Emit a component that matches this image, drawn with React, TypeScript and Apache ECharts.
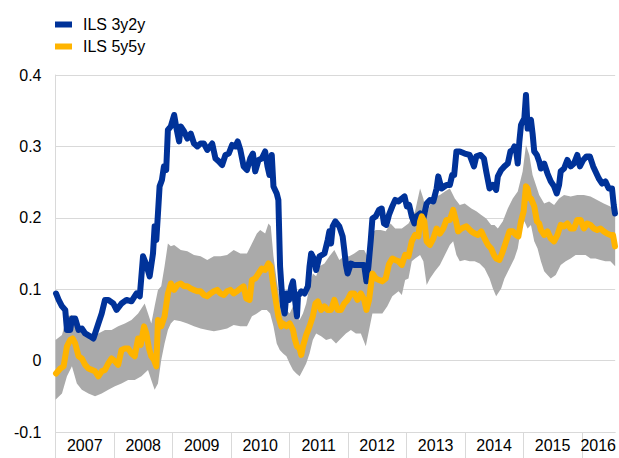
import React, { useEffect, useRef } from "react";
import * as echarts from "echarts";

// [decimal year, value]
const ils3y2y: [number, number][] = [
  [2007.009, 0.094], [2007.054, 0.085], [2007.111, 0.076], [2007.167, 0.071], [2007.196, 0.043],
  [2007.252, 0.043], [2007.281, 0.059], [2007.337, 0.059], [2007.394, 0.043], [2007.45, 0.045],
  [2007.507, 0.038], [2007.592, 0.034], [2007.648, 0.031], [2007.733, 0.052], [2007.79, 0.066],
  [2007.846, 0.085], [2007.903, 0.085], [2007.988, 0.08], [2008.044, 0.071], [2008.129, 0.08],
  [2008.214, 0.085], [2008.299, 0.083], [2008.384, 0.094], [2008.441, 0.09], [2008.497, 0.146],
  [2008.554, 0.134], [2008.61, 0.118], [2008.667, 0.15], [2008.695, 0.188], [2008.724, 0.169],
  [2008.752, 0.206], [2008.78, 0.244], [2008.82, 0.253], [2008.854, 0.272], [2008.893, 0.267],
  [2008.922, 0.323], [2008.972, 0.328], [2009.029, 0.344], [2009.074, 0.323], [2009.114, 0.307],
  [2009.142, 0.328], [2009.199, 0.321], [2009.255, 0.311], [2009.312, 0.318], [2009.368, 0.304],
  [2009.425, 0.3], [2009.481, 0.304], [2009.538, 0.304], [2009.595, 0.295], [2009.68, 0.304],
  [2009.736, 0.283], [2009.793, 0.279], [2009.849, 0.274], [2009.906, 0.288], [2009.963, 0.29],
  [2010.019, 0.302], [2010.076, 0.3], [2010.115, 0.307], [2010.161, 0.295], [2010.217, 0.272],
  [2010.274, 0.267], [2010.33, 0.283], [2010.376, 0.29], [2010.415, 0.265], [2010.472, 0.281],
  [2010.528, 0.283], [2010.585, 0.293], [2010.625, 0.272], [2010.659, 0.26], [2010.698, 0.288],
  [2010.727, 0.244], [2010.783, 0.234], [2010.811, 0.225], [2010.84, 0.132], [2010.863, 0.104],
  [2010.891, 0.076], [2010.919, 0.066], [2010.948, 0.094], [2010.993, 0.085], [2011.033, 0.104],
  [2011.061, 0.111], [2011.089, 0.09], [2011.129, 0.062], [2011.146, 0.09], [2011.202, 0.097],
  [2011.259, 0.094], [2011.316, 0.104], [2011.344, 0.132], [2011.372, 0.15], [2011.429, 0.141],
  [2011.457, 0.127], [2011.514, 0.146], [2011.599, 0.15], [2011.655, 0.169], [2011.683, 0.181],
  [2011.712, 0.164], [2011.74, 0.188], [2011.785, 0.195], [2011.853, 0.188], [2011.91, 0.174],
  [2011.938, 0.155], [2011.966, 0.134], [2011.995, 0.122], [2012.051, 0.136], [2012.108, 0.134],
  [2012.164, 0.134], [2012.221, 0.134], [2012.278, 0.134], [2012.317, 0.111], [2012.351, 0.132],
  [2012.391, 0.169], [2012.419, 0.199], [2012.476, 0.202], [2012.532, 0.211], [2012.578, 0.213],
  [2012.617, 0.192], [2012.657, 0.19], [2012.702, 0.204], [2012.759, 0.216], [2012.809, 0.225],
  [2012.866, 0.223], [2012.922, 0.227], [2012.968, 0.23], [2013.007, 0.216], [2013.047, 0.218],
  [2013.092, 0.202], [2013.137, 0.192], [2013.177, 0.202], [2013.234, 0.206], [2013.29, 0.199],
  [2013.347, 0.22], [2013.403, 0.225], [2013.46, 0.223], [2013.517, 0.241], [2013.545, 0.258],
  [2013.601, 0.241], [2013.686, 0.246], [2013.743, 0.246], [2013.783, 0.26], [2013.817, 0.26],
  [2013.856, 0.293], [2013.913, 0.293], [2013.998, 0.29], [2014.082, 0.288], [2014.156, 0.272],
  [2014.196, 0.286], [2014.269, 0.288], [2014.326, 0.283], [2014.365, 0.265], [2014.422, 0.241],
  [2014.479, 0.246], [2014.535, 0.239], [2014.564, 0.258], [2014.621, 0.267], [2014.677, 0.272],
  [2014.734, 0.276], [2014.779, 0.293], [2014.819, 0.295], [2014.847, 0.3], [2014.875, 0.295],
  [2014.904, 0.276], [2014.932, 0.307], [2014.96, 0.33], [2014.988, 0.335], [2015.017, 0.339],
  [2015.045, 0.372], [2015.073, 0.325], [2015.102, 0.335], [2015.13, 0.337], [2015.158, 0.318],
  [2015.186, 0.293], [2015.232, 0.288], [2015.271, 0.279], [2015.3, 0.269], [2015.356, 0.276],
  [2015.413, 0.262], [2015.469, 0.251], [2015.526, 0.244], [2015.571, 0.234], [2015.611, 0.246],
  [2015.639, 0.265], [2015.696, 0.269], [2015.752, 0.281], [2015.809, 0.272], [2015.866, 0.276],
  [2015.922, 0.288], [2015.967, 0.272], [2016.024, 0.281], [2016.081, 0.286], [2016.137, 0.286],
  [2016.194, 0.272], [2016.25, 0.262], [2016.29, 0.255], [2016.347, 0.248], [2016.403, 0.251],
  [2016.46, 0.241], [2016.516, 0.241], [2016.545, 0.218], [2016.567, 0.206],
];

const ils5y5y: [number, number][] = [
  [2007.009, -0.018], [2007.082, -0.011], [2007.139, -0.008], [2007.196, 0.02], [2007.252, 0.029],
  [2007.292, 0.031], [2007.337, 0.024], [2007.394, 0.006], [2007.45, 0.003], [2007.507, -0.006],
  [2007.563, -0.011], [2007.62, -0.013], [2007.676, -0.015], [2007.733, -0.022], [2007.79, -0.015],
  [2007.846, -0.013], [2007.903, -0.004], [2007.959, 0.003], [2008.016, -0.001], [2008.072, -0.006],
  [2008.129, 0.015], [2008.186, 0.017], [2008.242, 0.017], [2008.299, 0.01], [2008.355, 0.006],
  [2008.412, 0.031], [2008.457, 0.022], [2008.514, 0.048], [2008.554, 0.038], [2008.599, 0.017],
  [2008.638, 0.006], [2008.684, 0.001], [2008.724, -0.008], [2008.752, 0.057], [2008.808, 0.048],
  [2008.865, 0.062], [2008.922, 0.094], [2008.972, 0.108], [2009.029, 0.099], [2009.085, 0.106],
  [2009.142, 0.108], [2009.199, 0.104], [2009.255, 0.104], [2009.312, 0.101], [2009.368, 0.099],
  [2009.425, 0.097], [2009.481, 0.097], [2009.538, 0.092], [2009.595, 0.09], [2009.651, 0.094],
  [2009.708, 0.097], [2009.764, 0.099], [2009.821, 0.094], [2009.878, 0.092], [2009.934, 0.097],
  [2009.991, 0.099], [2010.047, 0.094], [2010.104, 0.097], [2010.161, 0.101], [2010.217, 0.104],
  [2010.262, 0.087], [2010.319, 0.085], [2010.359, 0.113], [2010.415, 0.115], [2010.472, 0.122],
  [2010.528, 0.129], [2010.585, 0.127], [2010.642, 0.136], [2010.681, 0.132], [2010.715, 0.111],
  [2010.755, 0.09], [2010.811, 0.062], [2010.862, 0.048], [2010.891, 0.052], [2010.948, 0.048],
  [2011.004, 0.052], [2011.061, 0.043], [2011.089, 0.031], [2011.129, 0.02], [2011.174, 0.017],
  [2011.202, 0.008], [2011.231, 0.02], [2011.287, 0.036], [2011.344, 0.048], [2011.4, 0.062],
  [2011.446, 0.08], [2011.485, 0.083], [2011.542, 0.071], [2011.599, 0.076], [2011.655, 0.071],
  [2011.712, 0.071], [2011.768, 0.085], [2011.825, 0.071], [2011.881, 0.071], [2011.938, 0.08],
  [2011.995, 0.085], [2012.051, 0.094], [2012.108, 0.094], [2012.164, 0.085], [2012.221, 0.094],
  [2012.278, 0.085], [2012.317, 0.071], [2012.362, 0.085], [2012.419, 0.122], [2012.476, 0.115],
  [2012.532, 0.113], [2012.589, 0.111], [2012.646, 0.115], [2012.702, 0.135], [2012.759, 0.143],
  [2012.809, 0.141], [2012.866, 0.139], [2012.922, 0.134], [2012.979, 0.148], [2013.036, 0.146],
  [2013.092, 0.167], [2013.149, 0.176], [2013.205, 0.174], [2013.234, 0.195], [2013.262, 0.202],
  [2013.307, 0.195], [2013.347, 0.167], [2013.403, 0.162], [2013.46, 0.171], [2013.517, 0.185],
  [2013.573, 0.178], [2013.63, 0.185], [2013.686, 0.197], [2013.743, 0.197], [2013.8, 0.211],
  [2013.845, 0.197], [2013.884, 0.181], [2013.941, 0.185], [2014.026, 0.188], [2014.111, 0.181],
  [2014.167, 0.178], [2014.224, 0.176], [2014.281, 0.181], [2014.337, 0.171], [2014.394, 0.162],
  [2014.45, 0.157], [2014.496, 0.148], [2014.535, 0.143], [2014.592, 0.141], [2014.649, 0.153],
  [2014.705, 0.167], [2014.762, 0.181], [2014.819, 0.181], [2014.875, 0.176], [2014.915, 0.174],
  [2014.96, 0.195], [2015.005, 0.209], [2015.045, 0.244], [2015.073, 0.241], [2015.102, 0.227],
  [2015.13, 0.227], [2015.186, 0.216], [2015.232, 0.195], [2015.271, 0.192], [2015.3, 0.183],
  [2015.356, 0.176], [2015.413, 0.181], [2015.469, 0.171], [2015.526, 0.167], [2015.583, 0.176],
  [2015.639, 0.19], [2015.696, 0.188], [2015.752, 0.192], [2015.809, 0.185], [2015.866, 0.185],
  [2015.922, 0.197], [2015.979, 0.197], [2016.035, 0.185], [2016.092, 0.192], [2016.149, 0.19],
  [2016.205, 0.185], [2016.262, 0.183], [2016.318, 0.185], [2016.375, 0.181], [2016.431, 0.178],
  [2016.488, 0.176], [2016.533, 0.176], [2016.567, 0.16],
];

const bandUpper: [number, number][] = [
  [2007.0, 0.029], [2007.111, 0.036], [2007.196, 0.062], [2007.281, 0.064], [2007.394, 0.043],
  [2007.507, 0.038], [2007.62, 0.034], [2007.733, 0.038], [2007.846, 0.043], [2007.959, 0.043],
  [2008.072, 0.048], [2008.186, 0.052], [2008.299, 0.057], [2008.412, 0.066], [2008.525, 0.08],
  [2008.582, 0.066], [2008.638, 0.052], [2008.695, 0.076], [2008.752, 0.099], [2008.808, 0.104],
  [2008.865, 0.132], [2008.922, 0.164], [2008.972, 0.16], [2009.029, 0.162], [2009.142, 0.155],
  [2009.255, 0.153], [2009.368, 0.148], [2009.481, 0.146], [2009.595, 0.141], [2009.708, 0.146],
  [2009.821, 0.146], [2009.934, 0.148], [2010.047, 0.155], [2010.161, 0.15], [2010.274, 0.15],
  [2010.359, 0.164], [2010.443, 0.178], [2010.5, 0.183], [2010.585, 0.178], [2010.642, 0.192],
  [2010.681, 0.188], [2010.727, 0.146], [2010.783, 0.113], [2010.835, 0.085], [2010.891, 0.076],
  [2010.948, 0.071], [2011.004, 0.066], [2011.061, 0.076], [2011.118, 0.062], [2011.174, 0.057],
  [2011.231, 0.066], [2011.287, 0.08], [2011.344, 0.104], [2011.4, 0.122], [2011.457, 0.118],
  [2011.514, 0.132], [2011.599, 0.136], [2011.683, 0.146], [2011.768, 0.155], [2011.853, 0.141],
  [2011.938, 0.146], [2012.023, 0.146], [2012.108, 0.15], [2012.193, 0.155], [2012.278, 0.155],
  [2012.334, 0.146], [2012.391, 0.178], [2012.476, 0.183], [2012.561, 0.183], [2012.646, 0.181],
  [2012.73, 0.192], [2012.809, 0.185], [2012.922, 0.185], [2013.036, 0.192], [2013.149, 0.209],
  [2013.234, 0.241], [2013.29, 0.227], [2013.347, 0.204], [2013.403, 0.218], [2013.488, 0.23],
  [2013.573, 0.232], [2013.658, 0.237], [2013.743, 0.241], [2013.828, 0.227], [2013.913, 0.218],
  [2013.998, 0.22], [2014.111, 0.213], [2014.196, 0.209], [2014.281, 0.204], [2014.365, 0.199],
  [2014.45, 0.19], [2014.507, 0.19], [2014.564, 0.185], [2014.649, 0.195], [2014.734, 0.213],
  [2014.819, 0.227], [2014.904, 0.237], [2014.988, 0.265], [2015.045, 0.302], [2015.102, 0.288],
  [2015.158, 0.26], [2015.215, 0.246], [2015.271, 0.232], [2015.356, 0.22], [2015.441, 0.223],
  [2015.526, 0.218], [2015.611, 0.227], [2015.696, 0.232], [2015.809, 0.23], [2015.922, 0.232],
  [2016.035, 0.232], [2016.149, 0.23], [2016.262, 0.225], [2016.375, 0.22], [2016.488, 0.216],
  [2016.57, 0.209],
];

const bandLower: [number, number][] = [
  [2007.0, -0.055], [2007.111, -0.046], [2007.196, -0.022], [2007.281, -0.008], [2007.365, -0.032],
  [2007.45, -0.041], [2007.563, -0.046], [2007.676, -0.05], [2007.79, -0.046], [2007.903, -0.041],
  [2008.016, -0.036], [2008.129, -0.032], [2008.242, -0.027], [2008.355, -0.027], [2008.469, -0.022],
  [2008.582, -0.013], [2008.638, -0.027], [2008.695, -0.041], [2008.752, -0.032], [2008.808, 0.001],
  [2008.865, 0.024], [2008.922, 0.043], [2008.972, 0.052], [2009.029, 0.057], [2009.142, 0.055],
  [2009.255, 0.052], [2009.368, 0.048], [2009.481, 0.045], [2009.595, 0.043], [2009.708, 0.041],
  [2009.821, 0.043], [2009.934, 0.045], [2010.047, 0.05], [2010.161, 0.048], [2010.274, 0.048],
  [2010.359, 0.062], [2010.443, 0.066], [2010.528, 0.071], [2010.613, 0.071], [2010.67, 0.066],
  [2010.727, 0.048], [2010.783, 0.024], [2010.835, 0.015], [2010.891, 0.01], [2010.948, 0.006],
  [2011.004, -0.004], [2011.061, -0.013], [2011.118, -0.018], [2011.174, -0.022], [2011.231, -0.013],
  [2011.287, -0.004], [2011.344, 0.01], [2011.4, 0.029], [2011.457, 0.038], [2011.542, 0.034],
  [2011.627, 0.029], [2011.712, 0.031], [2011.797, 0.024], [2011.881, 0.031], [2011.966, 0.038],
  [2012.051, 0.043], [2012.136, 0.038], [2012.221, 0.038], [2012.306, 0.02], [2012.362, 0.043],
  [2012.419, 0.066], [2012.504, 0.066], [2012.589, 0.066], [2012.674, 0.076], [2012.759, 0.09],
  [2012.866, 0.097], [2012.922, 0.092], [2012.979, 0.113], [2013.036, 0.115], [2013.092, 0.139],
  [2013.149, 0.143], [2013.234, 0.148], [2013.29, 0.139], [2013.347, 0.106], [2013.403, 0.115],
  [2013.488, 0.125], [2013.573, 0.134], [2013.658, 0.148], [2013.743, 0.162], [2013.8, 0.167],
  [2013.856, 0.148], [2013.913, 0.139], [2013.998, 0.141], [2014.082, 0.139], [2014.167, 0.139],
  [2014.252, 0.136], [2014.337, 0.129], [2014.422, 0.115], [2014.479, 0.101], [2014.535, 0.09],
  [2014.621, 0.101], [2014.677, 0.115], [2014.762, 0.129], [2014.847, 0.143], [2014.904, 0.157],
  [2014.96, 0.185], [2015.017, 0.195], [2015.073, 0.185], [2015.13, 0.19], [2015.186, 0.167],
  [2015.243, 0.157], [2015.3, 0.139], [2015.356, 0.125], [2015.413, 0.12], [2015.469, 0.115],
  [2015.554, 0.12], [2015.639, 0.134], [2015.724, 0.139], [2015.809, 0.143], [2015.894, 0.148],
  [2015.979, 0.148], [2016.064, 0.148], [2016.149, 0.143], [2016.233, 0.143], [2016.318, 0.141],
  [2016.403, 0.139], [2016.488, 0.139], [2016.57, 0.132],
];

const yearTicks = [2007, 2008, 2009, 2010, 2011, 2012, 2013, 2014, 2015, 2016];
const yearLabelAt = [2007.5, 2008.5, 2009.5, 2010.5, 2011.5, 2012.5, 2013.5, 2014.5, 2015.5, 2016.28];
const seriesNames = ["ILS 3y2y", "ILS 5y5y"];

const FONT = 'Arial, "Liberation Sans", sans-serif';
const GRID_C = "#d9d9d9";

export default function App() {
  const ref = useRef<HTMLDivElement>(null);
  useEffect(() => {
    if (!ref.current) return;
    const chart = echarts.init(ref.current, null, { renderer: "svg" });
    chart.setOption({
      animation: false,
      textStyle: { fontFamily: FONT },
      grid: { left: 55.5, right: 0, top: 75, bottom: 26, containLabel: false },
      legend: {
        data: seriesNames,
        orient: "vertical",
        left: 50,
        top: 11,
        icon: "rect",
        itemWidth: 17,
        itemHeight: 6,
        itemGap: 5,
        textStyle: { fontSize: 16, color: "#000", fontFamily: FONT, lineHeight: 17, padding: [0, 0, 0, 6] },
      },
      xAxis: {
        type: "value",
        min: 2007,
        max: 2016.57,
        axisLine: { show: true, onZero: false, lineStyle: { color: GRID_C } },
        axisTick: {
          show: true,
          customValues: yearTicks,
          length: 26,
          lineStyle: { color: GRID_C },
        },
        axisLabel: {
          customValues: yearLabelAt,
          formatter: (v: number) => String(Math.floor(v)),
          fontSize: 16,
          color: "#000",
          fontFamily: FONT,
          margin: 5,
        },
        splitLine: { show: false },
      },
      yAxis: {
        type: "value",
        min: -0.1,
        max: 0.4,
        interval: 0.1,
        axisLine: { show: true, lineStyle: { color: GRID_C } },
        axisTick: { show: false },
        axisLabel: {
          fontSize: 16,
          color: "#000",
          fontFamily: FONT,
          margin: 14,
          formatter: (v: number) => String(Math.round(v * 10) / 10),
        },
        splitLine: { show: true, lineStyle: { color: GRID_C } },
      },
      series: [
        {
          type: "custom",
          name: "band",
          silent: true,
          data: [[2007, 0]],
          renderItem: (params: any, api: any) => {
            if (params.dataIndex !== 0) return null;
            const pts = bandUpper
              .map((p) => api.coord(p))
              .concat(bandLower.slice().reverse().map((p) => api.coord(p)));
            return { type: "polygon", shape: { points: pts }, style: { fill: "#aaaaaa" } };
          },
          z: 1,
        },
        {
          type: "line",
          name: seriesNames[0],
          data: ils3y2y,
          showSymbol: false,
          color: "#003299",
          itemStyle: { color: "#003299" },
          lineStyle: { width: 6, color: "#003299", join: "round", cap: "round" },
          z: 3,
        },
        {
          type: "line",
          name: seriesNames[1],
          data: ils5y5y,
          showSymbol: false,
          color: "#FFB400",
          itemStyle: { color: "#FFB400" },
          lineStyle: { width: 6, color: "#FFB400", join: "round", cap: "round" },
          z: 4,
        },
      ],
    });
    return () => chart.dispose();
  }, []);
  return (
    <div
      ref={ref}
      style={{ position: "fixed", left: 0, top: 0, width: 619, height: 458, background: "#fff" }}
    />
  );
}
